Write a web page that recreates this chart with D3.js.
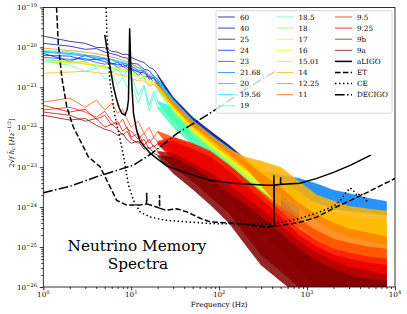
<!DOCTYPE html>
<html><head><meta charset="utf-8">
<script src="https://cdn.jsdelivr.net/npm/d3@7/dist/d3.min.js"></script>
<style>body{margin:0;background:#fff}svg{display:block}text{font-family:"DejaVu Serif",serif;fill:#000}</style>
</head><body>
<svg id="c" width="407" height="314"></svg>
<script>
// ---- data (values are log10 of 2*sqrt(f)*h_c) ----
const labels = ["60","40","25","24","23","21.68","20","19.56","19","18.5","18","17","16","15.01","14","12.25","11","9.5","9.25","9b","9a"];
const colors = ["#000080","#0000b3","#0000e6","#001aff","#004dff","#0080ff","#00b3ff","#00e6ff","#1affe6","#4dffb3","#80ff80","#b3ff4d","#e6ff1a","#ffe600","#ffb300","#ff8000","#ff4d00","#ff1a00","#e60000","#b30000","#800000"];
const lowFreq = [1,2,3,4,5,6,7,8,9,10,12,14,16,18,20];
const lowLogH = [
 [-19.72,-19.85,-19.90,-20.00,-20.01,-20.10,-20.12,-20.18,-20.17,-20.25,-20.33,-20.38,-20.50,-20.55,-20.68],
 [-19.90,-19.97,-20.05,-20.03,-20.12,-20.16,-20.20,-20.25,-20.27,-20.40,-20.42,-20.55,-20.58,-20.72,-20.80],
 [-20.15,-20.35,-20.20,-20.30,-20.28,-20.42,-20.38,-20.48,-20.45,-20.55,-20.70,-20.58,-20.80,-20.75,-20.95],
 [-20.20,-20.22,-20.32,-20.30,-20.36,-20.40,-20.44,-20.42,-20.50,-20.52,-20.62,-20.64,-20.75,-20.78,-20.88],
 [-20.25,-20.30,-20.28,-20.38,-20.42,-20.40,-20.50,-20.48,-20.55,-20.56,-20.60,-20.74,-20.72,-20.88,-20.92],
 [-20.10,-20.15,-20.20,-20.22,-20.28,-20.30,-20.35,-20.38,-20.42,-20.48,-20.58,-20.60,-20.73,-20.76,-20.85],
 [-20.12,-20.18,-20.22,-20.26,-20.30,-20.32,-20.38,-20.40,-20.43,-20.45,-20.57,-20.58,-20.72,-20.72,-20.82],
 [-20.08,-20.12,-20.18,-20.24,-20.26,-20.30,-20.34,-20.36,-20.40,-20.42,-20.52,-20.55,-20.68,-20.70,-20.80],
 [-20.30,-20.38,-20.35,-20.50,-20.45,-20.62,-20.55,-20.72,-20.60,-20.70,-21.20,-20.95,-21.45,-21.10,-21.35],
 [-20.35,-20.45,-20.60,-20.52,-20.80,-20.65,-20.95,-20.75,-21.00,-20.90,-21.40,-21.00,-21.60,-21.20,-21.50],
 [-20.30,-20.36,-20.42,-20.45,-20.52,-20.50,-20.58,-20.62,-20.60,-20.65,-20.80,-20.78,-20.98,-20.92,-21.05],
 [-20.30,-20.34,-20.40,-20.44,-20.48,-20.52,-20.55,-20.58,-20.60,-20.62,-20.74,-20.76,-20.92,-20.88,-21.00],
 [-20.35,-20.40,-20.38,-20.46,-20.50,-20.48,-20.55,-20.56,-20.58,-20.60,-20.72,-20.72,-20.88,-20.86,-20.98],
 [-20.35,-20.38,-20.42,-20.45,-20.47,-20.50,-20.52,-20.55,-20.57,-20.58,-20.70,-20.70,-20.84,-20.85,-20.95],
 [-20.65,-20.62,-20.60,-20.63,-20.66,-20.62,-20.68,-20.70,-20.74,-20.78,-20.84,-20.84,-20.95,-20.92,-21.00],
 [-20.02,-20.08,-20.12,-20.16,-20.20,-20.24,-20.28,-20.32,-20.36,-20.42,-20.50,-20.60,-20.70,-20.80,-20.90],
 [-21.37,-21.27,-21.50,-21.32,-21.57,-21.40,-21.65,-21.55,-21.80,-22.00,-21.85,-22.15,-22.00,-22.25,-22.10],
 [-21.57,-21.50,-21.62,-21.75,-21.60,-21.85,-21.95,-21.80,-22.05,-22.10,-22.30,-22.15,-22.40,-22.25,-22.35],
 [-21.45,-21.62,-21.55,-21.80,-21.70,-21.95,-21.85,-22.10,-22.00,-22.25,-22.15,-22.45,-22.30,-22.50,-22.40],
 [-21.62,-21.70,-21.85,-21.78,-22.00,-21.92,-22.05,-22.20,-22.10,-22.30,-22.40,-22.30,-22.55,-22.45,-22.60],
 [-21.70,-21.82,-21.78,-21.95,-22.05,-22.10,-22.20,-22.15,-22.32,-22.40,-22.35,-22.55,-22.50,-22.65,-22.70]
];
const bandFreq = [20,30,50,80,130,200,300,500,800,1300,2000,3000,5000,8000];
const bandHiLogH = [
 [-20.68,-21.25,-21.75,-22.10,-22.45,-22.80,-23.10,-23.45,-23.80,null,null,null,null,null],
 [-20.80,-21.30,-21.85,-22.20,-22.55,-22.90,-23.20,-23.55,-23.90,null,null,null,null,null],
 [-20.95,-21.40,-21.92,-22.28,-22.62,-22.95,-23.25,-23.60,-23.95,null,null,null,null,null],
 [-20.88,-21.38,-21.90,-22.25,-22.60,-22.93,-23.20,-23.55,-23.90,null,null,null,null,null],
 [-20.92,-21.42,-21.95,-22.30,-22.65,-22.98,-23.28,-23.60,-23.95,null,null,null,null,null],
 [-20.85,-21.35,-21.88,-22.22,-22.58,-22.90,-23.10,-23.20,-23.28,-23.42,-23.58,-23.66,-23.78,-23.86],
 [-20.82,-21.33,-21.85,-22.20,-22.55,-22.88,-23.15,-23.45,-23.80,null,null,null,null,null],
 [-20.80,-21.30,-21.82,-22.18,-22.52,-22.85,-23.12,-23.45,-23.80,null,null,null,null,null],
 [-21.35,-21.50,-22.00,-22.35,-22.70,-23.00,-23.30,-23.65,null,null,null,null,null,null],
 [-21.50,-21.55,-22.05,-22.40,-22.72,-23.05,-23.35,-23.70,null,null,null,null,null,null],
 [-21.05,-21.45,-21.95,-22.30,-22.65,-22.95,-23.25,-23.60,null,null,null,null,null,null],
 [-21.00,-21.42,-21.92,-22.28,-22.62,-22.92,-23.20,-23.55,null,null,null,null,null,null],
 [-20.98,-21.40,-21.90,-22.25,-22.60,-22.88,-23.15,-23.50,null,null,null,null,null,null],
 [-20.95,-21.38,-21.88,-22.22,-22.55,-22.82,-23.05,-23.30,-23.60,-23.95,-24.15,-24.25,-24.30,-24.35],
 [-21.00,-21.40,-21.90,-22.25,-22.55,-22.75,-22.85,-23.00,-23.35,-23.70,-23.85,-23.98,-24.05,-24.10],
 [-20.90,-21.35,-21.85,-22.20,-22.55,-22.85,-23.15,-23.50,-23.90,-24.20,-24.40,-24.55,-24.65,-24.75],
 [-22.10,-22.25,-22.45,-22.65,-22.95,-23.30,-23.60,-24.00,-24.30,-24.60,-24.80,-24.90,-25.00,-25.05],
 [-22.35,-22.25,-22.40,-22.60,-22.95,-23.30,-23.65,-24.10,-24.55,-24.85,-25.05,-25.15,-25.25,-25.30],
 [-22.40,-22.35,-22.55,-22.75,-23.10,-23.45,-23.80,-24.25,-24.70,-25.00,-25.20,-25.30,-25.40,-25.45],
 [-22.60,-22.65,-22.90,-23.15,-23.45,-23.75,-24.05,-24.45,-24.85,-25.15,-25.35,-25.50,-25.60,-25.70],
 [-22.70,-22.75,-23.00,-23.30,-23.65,-23.95,-24.25,-24.65,-25.05,-25.35,-25.55,-25.70,-25.80,-25.85]
];
const bandLoLogH = [
 [-20.71,-21.40,-21.95,-22.35,-22.75,-23.15,-23.50,-23.90,-24.30,null,null,null,null,null],
 [-20.83,-21.45,-22.03,-22.43,-22.83,-23.20,-23.60,-24.00,-24.40,null,null,null,null,null],
 [-20.98,-21.55,-22.10,-22.50,-22.90,-23.30,-23.70,-24.10,-24.50,null,null,null,null,null],
 [-20.91,-21.50,-22.05,-22.45,-22.85,-23.25,-23.60,-24.00,-24.40,null,null,null,null,null],
 [-20.95,-21.55,-22.10,-22.50,-22.90,-23.30,-23.70,-24.10,-24.50,null,null,null,null,null],
 [-20.88,-21.48,-22.03,-22.40,-22.78,-23.15,-23.40,-23.60,-23.75,-23.90,-24.05,-24.10,-24.15,-24.20],
 [-20.85,-21.46,-21.98,-22.38,-22.73,-23.10,-23.45,-23.80,-24.20,null,null,null,null,null],
 [-20.83,-21.43,-21.96,-22.36,-22.70,-23.05,-23.40,-23.80,-24.20,null,null,null,null,null],
 [-21.38,-21.85,-22.35,-22.75,-23.10,-23.45,-23.80,-24.20,null,null,null,null,null,null],
 [-21.53,-22.00,-22.45,-22.85,-23.20,-23.55,-23.90,-24.30,null,null,null,null,null,null],
 [-21.08,-21.62,-22.18,-22.58,-22.93,-23.30,-23.65,-24.05,null,null,null,null,null,null],
 [-21.03,-21.58,-22.12,-22.52,-22.88,-23.25,-23.60,-24.00,null,null,null,null,null,null],
 [-21.01,-21.55,-22.08,-22.48,-22.83,-23.20,-23.55,-23.95,null,null,null,null,null,null],
 [-20.98,-21.50,-22.05,-22.42,-22.78,-23.10,-23.40,-23.70,-24.00,-24.35,-24.55,-24.65,-24.70,-24.75],
 [-21.03,-21.50,-22.00,-22.38,-22.75,-23.05,-23.35,-23.65,-24.00,-24.35,-24.60,-24.75,-24.85,-24.95],
 [-20.93,-21.45,-21.95,-22.30,-22.67,-23.00,-23.45,-24.05,-24.45,-24.80,-25.05,-25.20,-25.30,-25.40],
 [-22.13,-22.60,-22.90,-23.20,-23.55,-24.00,-24.40,-24.80,-25.20,-25.50,-25.80,-26.00,-26.10,-26.20],
 [-22.38,-22.70,-22.95,-23.25,-23.65,-24.10,-24.50,-24.95,-25.40,-25.80,-26.10,-26.30,-26.40,-26.50],
 [-22.43,-22.80,-23.05,-23.40,-23.80,-24.25,-24.65,-25.10,-25.55,-25.95,-26.20,-26.40,-26.50,-26.60],
 [-22.63,-23.00,-23.35,-23.75,-24.15,-24.70,-25.20,-25.60,-26.00,-26.40,-26.60,-26.80,-26.90,-27.00],
 [-22.73,-23.15,-23.55,-23.95,-24.40,-24.95,-25.45,-25.85,-26.20,-26.60,-26.80,-27.00,-27.00,-27.00]
];
// detector sensitivity curves: [frequency, log10 value]
const aLIGO = [[5.0,-19.69],[5.4,-20.15],[5.75,-20.49],[6.3,-21.0],[6.84,-21.32],[7.3,-21.52],[7.8,-21.65],[8.5,-21.70],[9.0,-21.55],[9.3,-21.32],[9.6,-19.52],[9.9,-20.5],[10.6,-21.65],[11.5,-22.07],[12.6,-22.35],[13.7,-22.45],[16.4,-22.65],[19.5,-22.78],[25.5,-22.97],[43,-23.15],[78.6,-23.33],[144,-23.40],[350,-23.45],[418,-23.45],[420,-23.2],[421,-24.5],[423,-23.45],[498,-23.43],[500,-23.25],[502,-23.43],[830,-23.40],[1290,-23.28],[2000,-23.13],[3130,-22.95],[5300,-22.70]];
const ET = [[1.40,-18.8],[1.48,-19.90],[1.62,-20.74],[1.85,-21.49],[2.19,-21.99],[2.61,-22.32],[3.25,-22.74],[4.42,-22.99],[5.74,-23.49],[6.84,-23.83],[8.87,-23.95],[12.5,-23.95],[14.9,-23.92],[15.0,-23.64],[15.1,-23.92],[20.9,-24.02],[21.0,-23.70],[21.1,-24.03],[25,-24.08],[33,-24.04],[43,-24.12],[61,-24.28],[79,-24.37],[144,-24.40],[350,-24.50],[535,-24.45],[830,-24.38],[1290,-24.25],[2000,-24.03],[3130,-23.83],[4860,-23.63],[10000,-23.28]];
const CE = [[5.15,-18.8],[5.3,-19.7],[5.75,-20.9],[6.55,-21.74],[7.5,-22.32],[8.3,-22.8],[9.3,-23.45],[10.6,-23.83],[12.6,-24.12],[16.4,-24.25],[25,-24.33],[43,-24.37],[80,-24.41],[200,-24.43],[414,-24.43],[830,-24.28],[1290,-24.15],[2000,-23.98],[2400,-23.83],[2800,-23.62],[3100,-23.52],[3400,-23.6],[3700,-23.72],[4100,-23.65],[4500,-23.78],[5000,-23.9]];
const DECIGO = [[1,-23.64],[2,-23.48],[4.05,-23.24],[10.6,-22.95],[17.3,-22.65],[33,-22.16],[78.6,-21.65],[102,-21.49],[200,-21.05],[455,-20.57]];
const detectorNames = ["aLIGO","ET","CE","DECIGO"];
const xMajor = [1,10,100,1000,10000];
const yMajor = [1e-19,1e-20,1e-21,1e-22,1e-23,1e-24,1e-25,1e-26];

// ---- layout ----
const L=43.3,R=395,T=7.4,B=287;
const svg = d3.select("#c");
const x = d3.scaleLog().domain([1,1e4]).range([L,R]);
const y = d3.scaleLog().domain([1e-26,1e-19]).range([B,T]);
const Y = v => y(Math.pow(10,v));

svg.append("defs").append("clipPath").attr("id","clip")
  .append("rect").attr("x",L).attr("y",T).attr("width",R-L).attr("height",B-T);
const plot = svg.append("g").attr("clip-path","url(#clip)");

const line = d3.line().x(d=>x(d[0])).y(d=>Y(d[1]));
const area = d3.area().defined(d=>d[1]!=null).x(d=>x(d[0])).y0(d=>Y(d[2])).y1(d=>Y(d[1]));

labels.forEach((lab,i)=>{
  const pts = lowFreq.map((f,j)=>[f,lowLogH[i][j]]);
  plot.append("path").attr("d",line(pts)).attr("fill","none")
    .attr("stroke",colors[i]).attr("stroke-width",1).attr("stroke-opacity",0.75).attr("stroke-linejoin","round");
  const bp = bandFreq.map((f,j)=>[f,bandHiLogH[i][j],bandLoLogH[i][j]]);
  plot.append("path").attr("d",area(bp)).attr("fill",colors[i]).attr("fill-opacity",0.85)
    .attr("stroke",colors[i]).attr("stroke-width",0.8).attr("stroke-opacity",0.6);
});

const detStyles = [
  {data:aLIGO, dash:null},
  {data:ET, dash:"5.5,2.4"},
  {data:CE, dash:"1.5,2.5"},
  {data:DECIGO, dash:"9.6,2.4,1.5,2.4"}
];
detStyles.forEach(s=>{
  plot.append("path").attr("d",line(s.data)).attr("fill","none").attr("stroke","#000")
    .attr("stroke-width",1.5).attr("stroke-dasharray",s.dash);
});

// ---- axes ----
const xMinor=[], yMinor=[];
for(let k=0;k<4;k++) for(let m=2;m<10;m++) xMinor.push(m*Math.pow(10,k));
for(let k=-26;k<-19;k++) for(let m=2;m<10;m++) yMinor.push(m*Math.pow(10,k));
function styleAxis(g){ g.select(".domain").remove(); g.selectAll("line").attr("stroke","#000").attr("stroke-width",0.8); g.selectAll("text").remove(); }
svg.append("g").attr("transform",`translate(0,${B})`).call(d3.axisBottom(x).tickValues(xMajor).tickSize(3.5).tickFormat("")).call(styleAxis);
svg.append("g").attr("transform",`translate(0,${B})`).call(d3.axisBottom(x).tickValues(xMinor).tickSize(2).tickFormat("")).call(styleAxis);
svg.append("g").attr("transform",`translate(${L},0)`).call(d3.axisLeft(y).tickValues(yMajor).tickSize(3.5).tickFormat("")).call(styleAxis);
svg.append("g").attr("transform",`translate(${L},0)`).call(d3.axisLeft(y).tickValues(yMinor).tickSize(2).tickFormat("")).call(styleAxis);
svg.append("rect").attr("x",L).attr("y",T).attr("width",R-L).attr("height",B-T)
  .attr("fill","none").attr("stroke","#000").attr("stroke-width",0.8);

xMajor.forEach(v=>{
  const t = svg.append("text").attr("x",x(v)).attr("y",297).attr("text-anchor","middle").attr("font-size",7.2);
  t.append("tspan").text("10");
  t.append("tspan").attr("dy",-3).attr("font-size",5.2).text(String(Math.round(Math.log10(v))));
});
yMajor.forEach(v=>{
  const t = svg.append("text").attr("x",37).attr("y",y(v)+2.6).attr("text-anchor","end").attr("font-size",7.2);
  t.append("tspan").text("10");
  t.append("tspan").attr("dy",-3).attr("font-size",5.2).text("\u2212"+String(Math.round(-Math.log10(v))));
});
svg.append("text").attr("x",(L+R)/2).attr("y",307).attr("text-anchor","middle").attr("font-size",7.2).text("Frequency (Hz)");
const yl = svg.append("text").attr("transform","translate(13.5,143) rotate(-90)").attr("text-anchor","middle").attr("font-size",6.8);
yl.append("tspan").text("2\u221A");
yl.append("tspan").attr("font-style","italic").text("f h\u0303");
yl.append("tspan").attr("font-style","italic").attr("font-size",5).attr("dy",1.5).text("c");
yl.append("tspan").attr("dy",-1.5).text("  [");
yl.append("tspan").attr("font-style","italic").text("Hz");
yl.append("tspan").attr("font-size",4.8).attr("dy",-2.5).text("\u22121/2");
yl.append("tspan").attr("dy",2.5).text("]");

// title annotation
svg.append("text").attr("x",137).attr("y",251).attr("text-anchor","middle").attr("font-size",15.3).text("Neutrino Memory");
svg.append("text").attr("x",138).attr("y",269).attr("text-anchor","middle").attr("font-size",15.3).text("Spectra");

// ---- legend ----
const lg = svg.append("g");
lg.append("rect").attr("x",216).attr("y",10.7).attr("width",176).attr("height",102.5).attr("rx",2)
  .attr("fill","#fff").attr("fill-opacity",0.8).attr("stroke","#ccc").attr("stroke-width",0.8);
const entries = labels.map((l,i)=>({label:l,color:colors[i],opacity:0.75,dash:null,w:1}))
  .concat(detectorNames.map((n,i)=>({label:n,color:"#000",opacity:1,dash:detStyles[i].dash,w:1.5})));
const colCounts=[9,8,8], colX=[218,276.5,335];
let idx=0;
colCounts.forEach((cnt,c)=>{
  for(let r=0;r<cnt;r++,idx++){
    const e=entries[idx], cy=17+r*11.1;
    lg.append("line").attr("x1",colX[c]).attr("x2",colX[c]+17).attr("y1",cy).attr("y2",cy)
      .attr("stroke",e.color).attr("stroke-opacity",e.opacity).attr("stroke-width",e.w).attr("stroke-dasharray",e.dash);
    lg.append("text").attr("x",colX[c]+22).attr("y",cy+2.6).attr("font-size",7.2).text(e.label);
  }
});
</script>
</body></html>
